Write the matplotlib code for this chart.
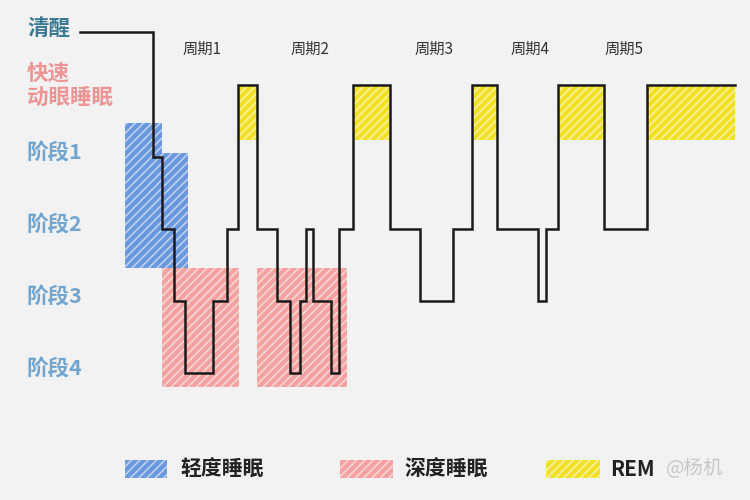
import matplotlib.pyplot as plt
from matplotlib.patches import Rectangle

plt.rcParams['font.family'] = ['Noto Sans CJK SC', 'DejaVu Sans']
plt.rcParams['hatch.linewidth'] = 1.2

# depth of each stage on the chart (清醒 sits above REM)
stage_names = ['清醒', '快速\n动眼睡眠', '阶段1', '阶段2', '阶段3', '阶段4']
stage_depth = [-0.74, 0, 1, 2, 3, 4]

# hypnogram: time of each change and stage index from then on
change_times = [80, 153, 162, 174, 185, 213, 227, 238, 257, 277,
                290, 300, 306, 313, 331, 339, 353, 390, 420, 453,
                472, 497, 538, 546, 558, 604, 647, 735]
stages = [0, 2, 3, 4, 5, 4, 3, 1, 3, 4,
          5, 4, 3, 4, 5, 3, 1, 3, 4, 3,
          1, 3, 4, 3, 1, 3, 1, 1]

# shaded periods: (start, end, top depth, bottom depth)
light_blocks = [(125, 162, 0.53, 2.54), (162, 188, 0.94, 2.54)]
deep_blocks = [(162, 239, 2.54, 4.19), (257, 347, 2.54, 4.19)]
rem_blocks = [(238, 257, 0, 0.76), (353, 390, 0, 0.76), (472, 497, 0, 0.76),
              (558, 604, 0, 0.76), (647, 735, 0, 0.76)]

cycle_names = ['周期1', '周期2', '周期3', '周期4', '周期5']
cycle_centers = [202, 310, 434, 530, 624]

legend_names = ['轻度睡眠', '深度睡眠', 'REM']

blue = '#6a98dc'
pink = '#f3a1a1'
yellow = '#f0e125'
bg = '#f2f2f2'

fig = plt.figure(figsize=(7.5, 5), dpi=100, facecolor=bg)
ax = fig.add_axes([0, 0, 1, 1])
ax.set_facecolor(bg)
ax.set_xlim(0, 750)
ax.set_ylim((500 - 85) / 72, -85 / 72)
ax.axis('off')


def shade(blocks, color):
    for x0, x1, d0, d1 in blocks:
        ax.add_patch(Rectangle((x0, d0), x1 - x0, d1 - d0, facecolor=color,
                               edgecolor=(1, 1, 1, 0.55), hatch='////',
                               linewidth=0, zorder=1))


shade(light_blocks, blue)
shade(deep_blocks, pink)
shade(rem_blocks, yellow)

depths = [stage_depth[s] for s in stages]
ax.step(change_times, depths, where='post', color='#1a1a1a', lw=1.8,
        zorder=3, solid_joinstyle='miter')

# stage labels on the left
label_colors = ['#3b7a92', '#ec9595', '#72a6cf', '#72a6cf', '#72a6cf', '#72a6cf']
for name, d, c in zip(stage_names, stage_depth, label_colors):
    off = 0 if '\n' in name else -0.05
    ax.text(27, d + off, name, color=c, fontsize=15.5, fontweight='bold',
            ha='left', va='center', linespacing=1.15)

for name, cx in zip(cycle_names, cycle_centers):
    ax.text(cx, -0.49, name, color='#333333', fontsize=11, ha='center',
            va='center', fontweight='medium')

# legend at the bottom, in figure pixels
def fx(x):
    return x / 750


def fy(y):
    return 1 - y / 500


swatches = [(125, 167, blue), (340, 393, pink), (546, 600, yellow)]
text_x = [180, 404, 610]
for (x0, x1, c), name, tx in zip(swatches, legend_names, text_x):
    fig.patches.append(Rectangle((fx(x0), fy(478)), fx(x1 - x0), 18 / 500,
                                 transform=fig.transFigure, facecolor=c,
                                 edgecolor=(1, 1, 1, 0.55), hatch='////',
                                 linewidth=0))
    fig.text(fx(tx), fy(469), name, color='#222222', fontsize=15,
             fontweight='bold', ha='left', va='center')
fig.text(fx(666), fy(469), '@杨机', color='#c8c8c8', fontsize=14,
         ha='left', va='center')

fig.savefig('out.png', dpi=100, facecolor=bg)
